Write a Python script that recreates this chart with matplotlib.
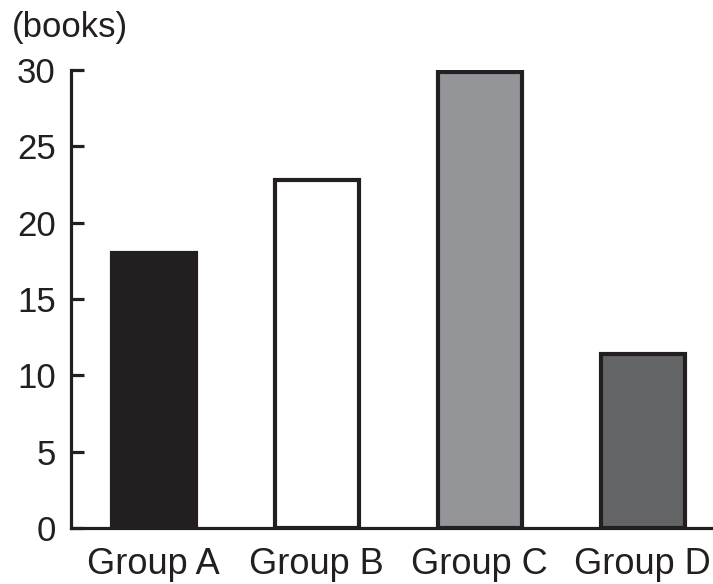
import matplotlib
matplotlib.use("Agg")
import matplotlib.pyplot as plt

categories = ["Group A", "Group B", "Group C", "Group D"]
values = [18.0, 22.8, 29.9, 11.4]
colors = ["#231f20", "#ffffff", "#939598", "#636466"]
yticks = [0, 5, 10, 15, 20, 25, 30]
unit_label = "(books)"

plt.rcParams['font.family'] = ['Liberation Sans', 'DejaVu Sans']

fig = plt.figure(figsize=(7.13, 5.84), dpi=100)
ax = fig.add_axes([71/713, 1-528/584, 1-71/713, (528-70)/584])

x = list(range(len(categories)))
ax.bar(x, values, width=0.515, color=colors, edgecolor="#231f20", linewidth=3.0, zorder=3)

ax.set_xlim(-0.506, 3.43)
ax.set_ylim(0, 30)
ax.set_yticks(yticks)
ax.set_yticklabels([str(t) for t in yticks])
ax.set_xticks(x)
ax.set_xticklabels(categories)

for s in ["top", "right"]:
    ax.spines[s].set_visible(False)
for s in ["left", "bottom"]:
    ax.spines[s].set_linewidth(2.3)
    ax.spines[s].set_color("#231f20")

ax.tick_params(axis="y", direction="in", length=9.5, width=2.3, color="#231f20",
               labelsize=25, pad=11, labelcolor="#231f20")
ax.tick_params(axis="x", length=0, labelsize=26, pad=14, labelcolor="#231f20")

fig.text(12/713, 1-11/584, unit_label, ha="left", va="top", fontsize=25, color="#231f20")

fig.savefig("out.png", dpi=100)
